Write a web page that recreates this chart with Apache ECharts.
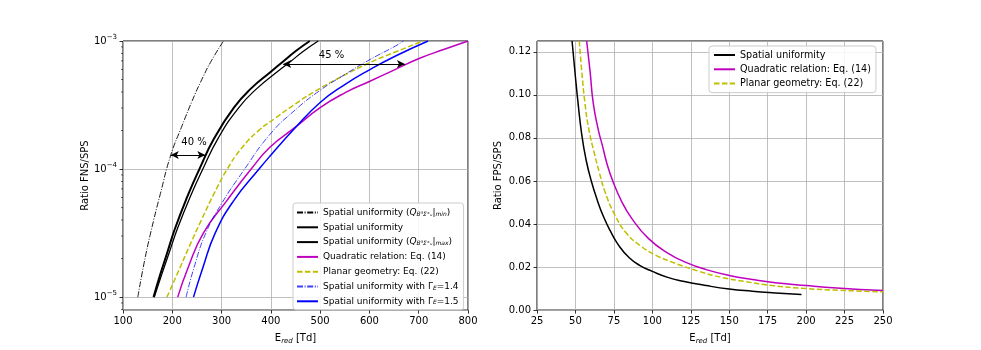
<!DOCTYPE html>
<html>
<head>
<meta charset="utf-8">
<title>Ratio FNS/SPS and FPS/SPS vs reduced field</title>
<script src="https://cdn.jsdelivr.net/npm/echarts@6/dist/echarts.min.js"></script>
<style>
  html, body { margin: 0; padding: 0; background: #fff; }
  #chart { width: 981px; height: 350px; }
</style>
</head>
<body>
<div id="chart"></div>
<script>
// ---------- left panel: ratio FNS/SPS (log) vs E_red [Td] ----------
const minorTicksY = [8e-6, 9e-6,
  2e-5, 3e-5, 4e-5, 5e-5, 6e-5, 7e-5, 8e-5, 9e-5,
  2e-4, 3e-4, 4e-4, 5e-4, 6e-4, 7e-4, 8e-4, 9e-4];

// spatial uniformity, Q min (dash-dot)
const qminE = [130, 143, 156, 176, 197, 220, 240, 260, 280, 304];
const qminR = [1.0e-5, 1.862e-5, 3.162e-5, 6.457e-5, 1.288e-4, 2.188e-4, 3.388e-4, 5.012e-4, 7.079e-4, 1.0e-3];

// spatial uniformity (thick) and Q max (thin)
const suE = [162, 175, 190, 205, 230, 255, 285, 325, 360, 400, 425, 450, 479];
const suR = [1.0e-5, 1.479e-5, 2.239e-5, 3.388e-5, 6.026e-5, 1.0e-4, 1.738e-4, 3.020e-4, 4.266e-4, 5.754e-4, 6.918e-4, 8.318e-4, 1.0e-3];
const qmaxE = [163.5, 178, 194, 210, 236, 262, 293, 335, 372, 413, 440, 466, 496];
const qmaxR = [1.0e-5, 1.479e-5, 2.239e-5, 3.388e-5, 6.026e-5, 1.0e-4, 1.738e-4, 3.020e-4, 4.266e-4, 5.754e-4, 6.918e-4, 8.318e-4, 1.0e-3];

// quadratic relation, Eq. (14)
const quadE = [211, 232, 263, 310, 360, 398, 449, 500, 550, 601, 652, 702, 752, 800];
const quadR = [1.0e-5, 1.698e-5, 3.162e-5, 5.623e-5, 1.0e-4, 1.479e-4, 2.113e-4, 3.020e-4, 3.936e-4, 4.853e-4, 5.984e-4, 7.328e-4, 8.610e-4, 1.0e-3];

// planar geometry, Eq. (22)
const planE = [189, 210, 235, 260, 285, 310, 340, 375, 410, 450, 500, 550, 600, 650, 709];
const planR = [1.0e-5, 1.514e-5, 2.512e-5, 4.074e-5, 6.457e-5, 9.772e-5, 1.445e-4, 1.995e-4, 2.512e-4, 3.236e-4, 4.266e-4, 5.433e-4, 6.761e-4, 8.128e-4, 1.0e-3];

// spatial uniformity with Gamma_E = 1.4 / 1.5
const g14E = [228, 244, 268, 300, 345, 398, 449, 500, 550, 601, 652, 669];
const g14R = [1.0e-5, 1.698e-5, 3.162e-5, 5.370e-5, 9.772e-5, 1.862e-4, 2.884e-4, 4.121e-4, 5.470e-4, 7.161e-4, 9.099e-4, 1.0e-3];
const g15E = [243, 262, 287, 324, 376, 398, 449, 500, 550, 601, 652, 719];
const g15R = [1.0e-5, 1.698e-5, 3.162e-5, 5.623e-5, 1.0e-4, 1.259e-4, 2.089e-4, 3.311e-4, 4.571e-4, 5.984e-4, 7.603e-4, 1.0e-3];

// annotations: double arrows and their labels
const arrow40 = [[197, 1.285e-4], [267, 1.285e-4]];
const arrow45 = [[425, 6.62e-4], [672, 6.62e-4]];
const notes = [[244, 1.61e-4, '40 %'], [523, 7.78e-4, '45 %']];

// ---------- right panel: ratio FPS/SPS vs E_red [Td] ----------
const rSuE = [47.8, 49.7, 51.5, 54.1, 57, 60.5, 64, 68, 72.5, 78, 85, 92, 100, 110, 120, 135, 150, 165, 180, 197];
const rSuR = [0.125, 0.1105, 0.0975, 0.0815, 0.0695, 0.0595, 0.0515, 0.0438, 0.0370, 0.0302, 0.0243, 0.0207, 0.0180, 0.0152, 0.0134, 0.0114, 0.0098, 0.0088, 0.0080, 0.0072];
const rQuadE = [57.3, 59.5, 61.6, 64.9, 67.5, 70.5, 74, 80, 86.6, 97.4, 110, 123, 135, 150, 165, 180, 200, 220, 250];
const rQuadR = [0.125, 0.111, 0.096, 0.0836, 0.0765, 0.068, 0.0605, 0.0505, 0.0426, 0.0333, 0.0265, 0.0218, 0.0188, 0.0161, 0.0142, 0.0127, 0.0114, 0.0103, 0.0091];
const rPlanE = [52.5, 54.1, 56.2, 58.8, 62.3, 65.5, 69.2, 75.7, 83.3, 93, 102, 115, 130, 145, 160, 178, 200, 222, 250];
const rPlanR = [0.125, 0.111, 0.096, 0.0836, 0.0728, 0.064, 0.055, 0.0441, 0.0356, 0.0295, 0.0256, 0.0217, 0.0181, 0.0152, 0.0133, 0.0114, 0.0100, 0.0092, 0.0085];

const FONT = 'DejaVu Sans';
const GRIDC = '#b0b0b0';

const labelMap = {
  'qmin': '{n|Spatial uniformity (}{q|Q}{s|B³Σ⁺ᵤ}{n||}{s|min}{n|)}',
  'su': 'Spatial uniformity',
  'qmax': '{n|Spatial uniformity (}{q|Q}{s|B³Σ⁺ᵤ}{n||}{s|max}{n|)}',
  'quad': 'Quadratic relation: Eq. (14)',
  'plan': 'Planar geometry: Eq. (22)',
  'g14': '{n|Spatial uniformity with Γ}{s|E}{n|=1.4}',
  'g15': '{n|Spatial uniformity with Γ}{s|E}{n|=1.5}',
  'rsu': 'Spatial uniformity',
  'rquad': 'Quadratic relation: Eq. (14)',
  'rplan': 'Planar geometry: Eq. (22)'
};

function curve(name, xs, ys, color, width, type, gi) {
  return {
    name: name,
    type: 'line',
    xAxisIndex: gi,
    yAxisIndex: gi,
    data: xs.map((x, i) => [x, ys[i]]),
    symbol: 'none',
    showSymbol: false,
    smooth: 0.5,
    lineStyle: { color: color, width: width, type: type },
    itemStyle: { color: color },
    emphasis: { disabled: true }
  };
}

function xAxisCfg(gi, min, max, step) {
  return {
    type: 'value', gridIndex: gi, min: min, max: max, interval: step,
    name: 'E{sub|red} [Td]', nameLocation: 'middle', nameGap: 19,
    nameTextStyle: { color: '#000', fontFamily: FONT, fontSize: 10, lineHeight: 14,
      rich: { sub: { fontSize: 7, fontStyle: 'italic', fontFamily: FONT, verticalAlign: 'bottom', lineHeight: 10 } } },
    axisLine: { show: false },
    axisTick: { show: true, inside: false, length: 3.5, lineStyle: { color: '#000', width: 0.8 } },
    axisLabel: { color: '#000', fontFamily: FONT, fontSize: 10, margin: 6 },
    splitLine: { show: true, lineStyle: { color: GRIDC, width: 0.8 } }
  };
}

// legend icons: keep the line sample, hide the round symbol
const legendItemStyle = { color: 'rgba(0,0,0,0)', borderColor: 'rgba(0,0,0,0)', borderWidth: 0, opacity: 0 };

const chart = echarts.init(document.getElementById('chart'), null, { renderer: 'canvas' });

const option = {
  animation: false,
  backgroundColor: '#ffffff',
  textStyle: { fontFamily: FONT },
  grid: [
    { left: 123, top: 41, width: 345, height: 270, show: true, borderColor: '#000', borderWidth: 1, backgroundColor: 'transparent' },
    { left: 537, top: 41, width: 346, height: 271, show: true, borderColor: '#000', borderWidth: 1, backgroundColor: 'transparent' }
  ],
  xAxis: [xAxisCfg(0, 100, 800, 100), xAxisCfg(1, 25, 250, 25)],
  yAxis: [
    {
      type: 'log', logBase: 10, gridIndex: 0, min: 7.92e-6, max: 1e-3,
      name: 'Ratio FNS/SPS', nameLocation: 'middle', nameGap: 33,
      nameTextStyle: { color: '#000', fontFamily: FONT, fontSize: 10 },
      axisLine: { show: false },
      axisTick: { show: true, inside: false, length: 3.5, lineStyle: { color: '#000', width: 0.8 } },
      axisLabel: {
        color: '#000', fontFamily: FONT, fontSize: 10, margin: 6, showMinLabel: false,
        lineHeight: 14,
        formatter: function (v) {
          const e = Math.round(Math.log10(v));
          if (Math.abs(Math.log10(v) - e) > 1e-6) return '';
          return '10{sup|−' + Math.abs(e) + '}';
        },
        rich: { sup: { fontSize: 7, fontFamily: FONT, verticalAlign: 'top', lineHeight: 9 } }
      },
      splitLine: { show: true, lineStyle: { color: GRIDC, width: 0.8 } }
    },
    {
      type: 'value', gridIndex: 1, min: 0, max: 0.125, interval: 0.02,
      name: 'Ratio FPS/SPS', nameLocation: 'middle', nameGap: 34,
      nameTextStyle: { color: '#000', fontFamily: FONT, fontSize: 10 },
      axisLine: { show: false },
      axisTick: { show: true, inside: false, length: 3.5, lineStyle: { color: '#000', width: 0.8 } },
      axisLabel: { color: '#000', fontFamily: FONT, fontSize: 10, margin: 6, showMaxLabel: false,
        formatter: v => v.toFixed(2) },
      splitLine: { show: true, lineStyle: { color: GRIDC, width: 0.8 } }
    }
  ],
  legend: [
    {
      orient: 'vertical', left: 293, top: 203,
      data: ['qmin', 'su', 'qmax', 'quad', 'plan', 'g14', 'g15'],
      itemWidth: 21, itemHeight: 10, itemGap: 5.8,
      padding: [5, 5, 4, 3],
      backgroundColor: 'rgba(255,255,255,0.85)', borderColor: '#cccccc', borderWidth: 1, borderRadius: 3,
      selectedMode: false,
      itemStyle: legendItemStyle,
      formatter: n => labelMap[n],
      textStyle: {
        color: '#000', fontFamily: FONT, fontSize: 9,
        rich: {
          n: { fontSize: 9, fontFamily: FONT, color: '#000' },
          q: { fontSize: 9, fontFamily: FONT, fontStyle: 'italic', color: '#000' },
          s: { fontSize: 6, fontFamily: FONT, fontStyle: 'italic', color: '#000', verticalAlign: 'bottom' }
        }
      }
    },
    {
      orient: 'vertical', left: 709, top: 46,
      data: ['rsu', 'rquad', 'rplan'],
      itemWidth: 21, itemHeight: 10, itemGap: 4.3,
      padding: [4, 5, 4, 4],
      backgroundColor: 'rgba(255,255,255,0.85)', borderColor: '#cccccc', borderWidth: 1, borderRadius: 3,
      selectedMode: false,
      itemStyle: legendItemStyle,
      formatter: n => labelMap[n],
      textStyle: { color: '#000', fontFamily: FONT, fontSize: 9.6 }
    }
  ],
  series: [
    curve('qmin', qminE, qminR, '#000000', 0.9, [6, 1.6, 1, 1.6], 0),
    curve('su', suE, suR, '#000000', 2, 'solid', 0),
    curve('qmax', qmaxE, qmaxR, '#000000', 1.3, 'solid', 0),
    curve('quad', quadE, quadR, '#bf00bf', 1.5, 'solid', 0),
    curve('plan', planE, planR, '#bfbf00', 1.5, [5.5, 2.4], 0),
    curve('g14', g14E, g14R, 'rgba(0,0,255,0.75)', 1, [6, 1.6, 1, 1.6], 0),
    curve('g15', g15E, g15R, '#0000ff', 1.5, 'solid', 0),
    {
      name: 'arrows', type: 'line', xAxisIndex: 0, yAxisIndex: 0, data: [],
      markLine: {
        silent: true, animation: false,
        symbol: ['arrow', 'arrow'], symbolSize: [6, 8],
        lineStyle: { color: '#000', width: 1, type: 'solid' },
        label: { show: false },
        data: [
          [{ coord: arrow40[0] }, { coord: arrow40[1] }],
          [{ coord: arrow45[0] }, { coord: arrow45[1] }]
        ]
      }
    },
    {
      name: 'notes', type: 'custom', xAxisIndex: 0, yAxisIndex: 0,
      data: notes,
      silent: true,
      renderItem: function (params, api) {
        const p = api.coord([api.value(0), api.value(1)]);
        return {
          type: 'text', x: p[0], y: p[1],
          style: { text: notes[params.dataIndex][2], fill: '#000', fontSize: 10, fontFamily: FONT,
            align: 'center', verticalAlign: 'middle' }
        };
      }
    },
    {
      name: 'minor', type: 'custom', xAxisIndex: 0, yAxisIndex: 0,
      data: minorTicksY.map(v => [100, v]),
      silent: true,
      renderItem: function (params, api) {
        const p = api.coord([api.value(0), api.value(1)]);
        return {
          type: 'line',
          shape: { x1: p[0] - 2, y1: p[1], x2: p[0], y2: p[1] },
          style: { stroke: '#000', lineWidth: 0.6 }
        };
      }
    },
    curve('rsu', rSuE, rSuR, '#000000', 1.5, 'solid', 1),
    curve('rquad', rQuadE, rQuadR, '#bf00bf', 1.5, 'solid', 1),
    curve('rplan', rPlanE, rPlanR, '#bfbf00', 1.5, [5.5, 2.4], 1)
  ]
};

chart.setOption(option);
</script>
</body>
</html>
